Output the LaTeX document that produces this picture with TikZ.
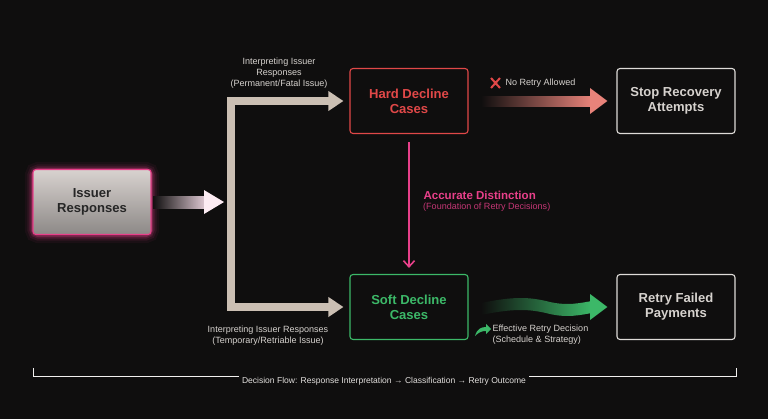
\documentclass[tikz,border=0pt]{standalone}
\usepackage{fontspec}
\setmainfont{Liberation Sans}
\usetikzlibrary{positioning,arrows.meta}
\definecolor{bgdark}{HTML}{0F0E0E}
\definecolor{hardred}{HTML}{E04848}
\definecolor{softgreen}{HTML}{3CB868}
\definecolor{pinkline}{HTML}{E8408A}
\definecolor{forkbeige}{HTML}{CBBFB3}
\definecolor{boxgray}{HTML}{D8D2CF}
\definecolor{labelgray}{HTML}{D6D2CE}
\definecolor{salmon}{HTML}{E8837A}
\tikzset{
  box/.style={draw, rounded corners=3pt, line width=1.1pt, minimum width=118\pxu, minimum height=65\pxu, align=center, font=\bfseries\fontsize{13}{15}\selectfont},
  note/.style={text=labelgray, align=center, font=\fontsize{9}{11}\selectfont},
  fork/.style={draw=forkbeige, line width=7pt, line join=miter, {Triangle[length=15pt,width=19pt]}-{Triangle[length=15pt,width=19pt]}}
}
\newcommand{\pxu}{*0.035cm}
\begin{document}
\begin{tikzpicture}[x=0.035cm, y=-0.035cm]
  \fill[bgdark] (0,0) rectangle (768,419);
  \useasboundingbox (0,0) rectangle (768,419);

  % glow of the source box
  \foreach \w/\o in {16/0.06, 11/0.1, 7/0.16, 4/0.25}
    \draw[pinkline, line width=\w pt, opacity=\o, rounded corners=5pt] (33,170) rectangle (151,235);

  % Boxes
  \node[box, draw=pinkline, top color=boxgray, bottom color=boxgray!65!black, text=black!85] (issuer) at (92,202) {Issuer\\Responses};
  \node[box, draw=hardred, text=hardred] (hard) at (409,101) {Hard Decline\\Cases};
  \node[box, draw=softgreen, text=softgreen] (soft) at (409,307) {Soft Decline\\Cases};
  \node[box, draw=labelgray!80, text=labelgray] (stop) at (676,101) {Stop Recovery\\Attempts};
  \node[box, draw=labelgray!80, text=labelgray] (retry) at (676,307) {Retry Failed\\Payments};

  % Input arrow with glow
  \coordinate (inhead) at (224,202);
  \shade[left color=bgdark, right color=pinkline!15!white, opacity=0.9] (153,196) rectangle (206,208);
  \fill[pinkline!10!white] (204,190) -- (inhead) -- (204,214) -- cycle;

  % Fork to the two cases
  \draw[fork] ([xshift=-6pt]hard.west) -- (231,101) -- (231,307) -- ([xshift=-6pt]soft.west);
  \node[note] (hardlbl) at (279,73) {Interpreting Issuer\\Responses\\(Permanent/Fatal Issue)};
  \node[note] (softlbl) at (268,336) {Interpreting Issuer Responses\\(Temporary/Retriable Issue)};

  % Distinction arrow
  \draw[pinkline, line width=1.6pt, -{Straight Barb[length=6pt,width=11pt]}] ([yshift=-8pt]hard.south) -- ([yshift=6pt]soft.north);
  \node[anchor=west, text=pinkline, font=\bfseries\fontsize{11.5}{13}\selectfont] (dist) at (420,195) {Accurate Distinction};
  \node[anchor=north west, inner sep=0pt, text=pinkline!85!black, font=\fontsize{9}{11}\selectfont] (distsub) at ([xshift=3pt]dist.south west) {(Foundation of Retry Decisions)};

  % No retry arrow
  \shade[left color=bgdark, right color=salmon] (481,96) rectangle (592,106);
  \fill[salmon] (590,88) -- ([xshift=-9pt]stop.west) -- (590,114) -- cycle;
  \draw[hardred, line width=2pt] (491,78) -- (500,88) (491,88) -- (500,78);
  \node[anchor=west, text=labelgray, font=\fontsize{9}{11}\selectfont] (noretry) at (502,83) {No Retry Allowed};

  % Retry arrow (wavy)
  \shade[left color=bgdark, right color=softgreen] (481,303) .. controls (515,296) and (530,297) .. (550,302) .. controls (568,306) and (580,303) .. (592,301)
     -- (592,313) .. controls (580,315) and (568,318) .. (550,314) .. controls (530,309) and (515,308) .. (481,315) -- cycle;
  \fill[softgreen] (590,294) -- ([xshift=-9pt]retry.west) -- (590,320) -- cycle;
  \fill[softgreen] (475,336) .. controls (477,329) and (481,327) .. (486,327) -- (486,324) -- (491,329) -- (486,334) -- (486,331) .. controls (482,331) and (479,332) .. (475,336) -- cycle;
  \node[anchor=north west, text=labelgray, align=left, font=\fontsize{9}{11}\selectfont] (effect) at (489,321) {Effective Retry Decision\\(Schedule \& Strategy)};

  % Bottom bracket
  \coordinate (bl) at (33,376);
  \coordinate (br) at (736,376);
  \draw[labelgray!35, line width=0.6pt] ([yshift=8pt]bl) -- (bl) -- (br) -- ([yshift=8pt]br);
  \node[fill=bgdark, text=labelgray!70, font=\fontsize{8.5}{10}\selectfont] (flow) at (384,381) {Decision Flow: Response Interpretation → Classification → Retry Outcome};
\end{tikzpicture}
\end{document}
